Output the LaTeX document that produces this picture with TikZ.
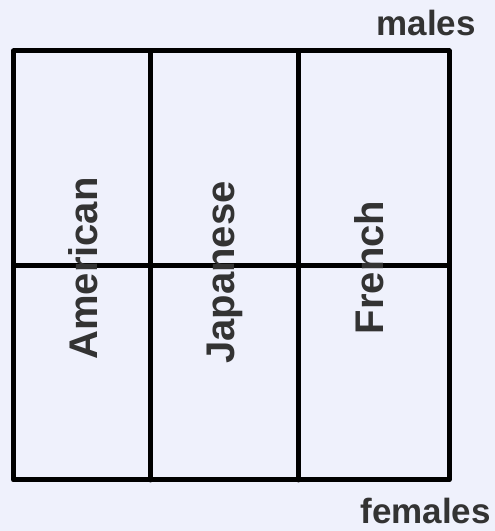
\documentclass[tikz,border=0pt]{standalone}
\usepackage{fontspec}
\setmainfont{Liberation Sans}
\definecolor{bgc}{RGB}{239,241,252}
\definecolor{txt}{RGB}{51,51,51}
\begin{document}
\begin{tikzpicture}[x=1pt,y=1pt,
  gridline/.style={line width=5pt,black,line join=round,line cap=round},
  country/.style={rotate=90,inner sep=0,text=txt,font=\fontsize{40}{48}\selectfont\bfseries},
  sexlabel/.style={inner sep=0,anchor=base east,text=txt,font=\fontsize{35}{42}\selectfont\bfseries}]
\fill[bgc] (0,0) rectangle (495,531);
\useasboundingbox (0,0) rectangle (495,531);
% grid
\coordinate (tl) at (13.5,480);
\coordinate (br) at (449,51);
\draw[gridline] (tl) rectangle (br);
\draw[gridline] (150.5,480) -- (150.5,51);
\draw[gridline] (298.5,480) -- (298.5,51);
\draw[gridline] (13.5,265) -- (449,265);
% labels
\node[country] (am) at (83.5,262.5) {American};
\node[country] (jp) at (224.5,258.5) {Japanese};
\node[country] (fr) at (369,263.5) {French};
\node[sexlabel] (m) at (476,495) {males};
\node[sexlabel] (f) at (491,7) {females};
\end{tikzpicture}
\end{document}
